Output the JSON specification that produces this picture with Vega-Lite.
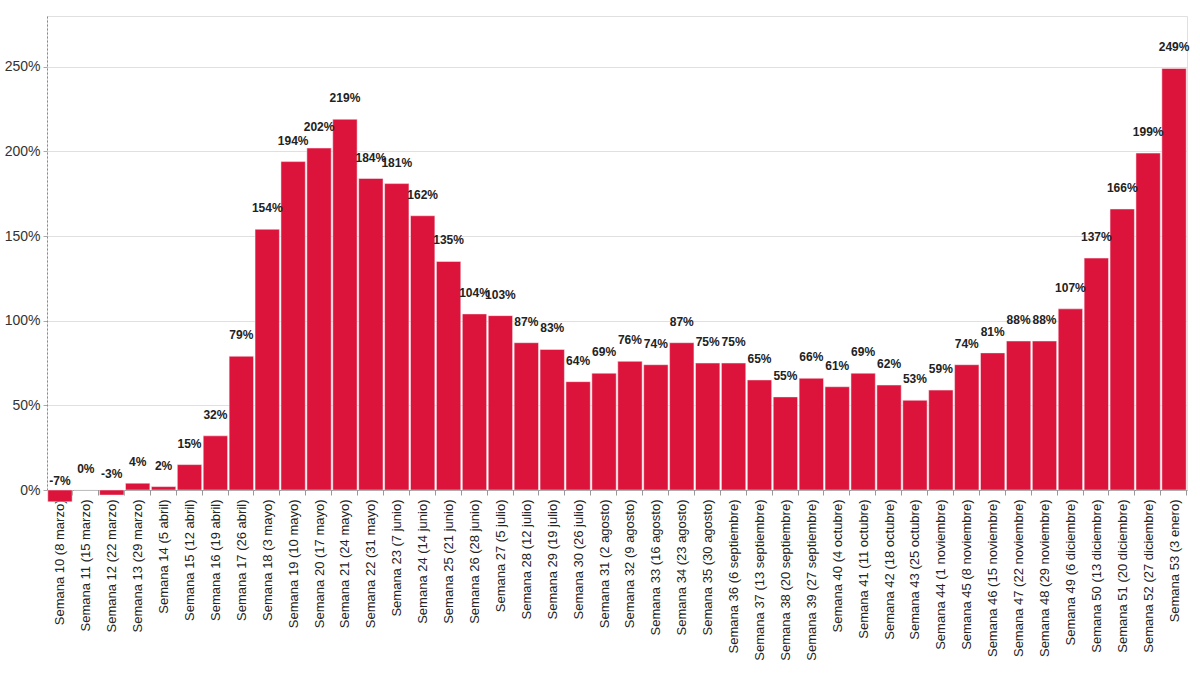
{
  "$schema": "https://vega.github.io/schema/vega-lite/v6.json",
  "autosize": "none",
  "width": 1140,
  "height": 474,
  "padding": {"left": 47, "top": 16, "right": 13, "bottom": 184},
  "background": "white",
  "config": {
    "view": {"stroke": "#e0e0e0"},
    "font": "Liberation Sans"
  },
  "data": {
    "values": [
      {"semana": "Semana 10 (8 marzo)", "v": -7},
      {"semana": "Semana 11 (15 marzo)", "v": 0},
      {"semana": "Semana 12 (22 marzo)", "v": -3},
      {"semana": "Semana 13 (29 marzo)", "v": 4},
      {"semana": "Semana 14 (5 abril)", "v": 2},
      {"semana": "Semana 15 (12 abril)", "v": 15},
      {"semana": "Semana 16 (19 abril)", "v": 32},
      {"semana": "Semana 17 (26 abril)", "v": 79},
      {"semana": "Semana 18 (3 mayo)", "v": 154},
      {"semana": "Semana 19 (10 mayo)", "v": 194},
      {"semana": "Semana 20 (17 mayo)", "v": 202},
      {"semana": "Semana 21 (24 mayo)", "v": 219},
      {"semana": "Semana 22 (31 mayo)", "v": 184},
      {"semana": "Semana 23 (7 junio)", "v": 181},
      {"semana": "Semana 24 (14 junio)", "v": 162},
      {"semana": "Semana 25 (21 junio)", "v": 135},
      {"semana": "Semana 26 (28 junio)", "v": 104},
      {"semana": "Semana 27 (5 julio)", "v": 103},
      {"semana": "Semana 28 (12 julio)", "v": 87},
      {"semana": "Semana 29 (19 julio)", "v": 83},
      {"semana": "Semana 30 (26 julio)", "v": 64},
      {"semana": "Semana 31 (2 agosto)", "v": 69},
      {"semana": "Semana 32 (9 agosto)", "v": 76},
      {"semana": "Semana 33 (16 agosto)", "v": 74},
      {"semana": "Semana 34 (23 agosto)", "v": 87},
      {"semana": "Semana 35 (30 agosto)", "v": 75},
      {"semana": "Semana 36 (6 septiembre)", "v": 75},
      {"semana": "Semana 37 (13 septiembre)", "v": 65},
      {"semana": "Semana 38 (20 septiembre)", "v": 55},
      {"semana": "Semana 39 (27 septiembre)", "v": 66},
      {"semana": "Semana 40 (4 octubre)", "v": 61},
      {"semana": "Semana 41 (11 octubre)", "v": 69},
      {"semana": "Semana 42 (18 octubre)", "v": 62},
      {"semana": "Semana 43 (25 octubre)", "v": 53},
      {"semana": "Semana 44 (1 noviembre)", "v": 59},
      {"semana": "Semana 45 (8 noviembre)", "v": 74},
      {"semana": "Semana 46 (15 noviembre)", "v": 81},
      {"semana": "Semana 47 (22 noviembre)", "v": 88},
      {"semana": "Semana 48 (29 noviembre)", "v": 88},
      {"semana": "Semana 49 (6 diciembre)", "v": 107},
      {"semana": "Semana 50 (13 diciembre)", "v": 137},
      {"semana": "Semana 51 (20 diciembre)", "v": 166},
      {"semana": "Semana 52 (27 diciembre)", "v": 199},
      {"semana": "Semana 53 (3 enero)", "v": 249}
    ]
  },
  "encoding": {
    "x": {
      "field": "semana",
      "type": "nominal",
      "sort": null,
      "scale": {"paddingInner": 0.06, "paddingOuter": 0.03},
      "axis": {
        "title": null,
        "labelAngle": -90,
        "labelFontSize": 13,
        "labelColor": "#222",
        "labelPadding": 4,
        "tickBand": "extent",
        "tickColor": "#999",
        "tickSize": 5,
        "domainColor": "#999",
        "labelFont": "Liberation Sans"
      }
    },
    "y": {
      "field": "v",
      "type": "quantitative",
      "scale": {"domain": [0, 280], "nice": false, "zero": true},
      "axis": {
        "title": null,
        "values": [0, 50, 100, 150, 200, 250],
        "labelExpr": "datum.value + '%'",
        "labelFontSize": 14,
        "labelColor": "#333",
        "gridColor": "#e0e0e0",
        "domainColor": "#888",
        "domainDash": [2, 2],
        "tickColor": "#aaa",
        "tickSize": 4,
        "labelPadding": 3,
        "labelFont": "Liberation Sans"
      }
    }
  },
  "layer": [
    {
      "mark": {"type": "bar", "color": "#DC143C", "clip": false, "stroke": "#f3f3f3", "strokeWidth": 0.5}
    },
    {
      "mark": {"type": "text", "fontWeight": "bold", "fontSize": 12, "color": "#222", "baseline": "middle", "dy": -21, "font": "Liberation Sans", "text": {"expr": "datum.v + '%'"}}
    }
  ]
}
